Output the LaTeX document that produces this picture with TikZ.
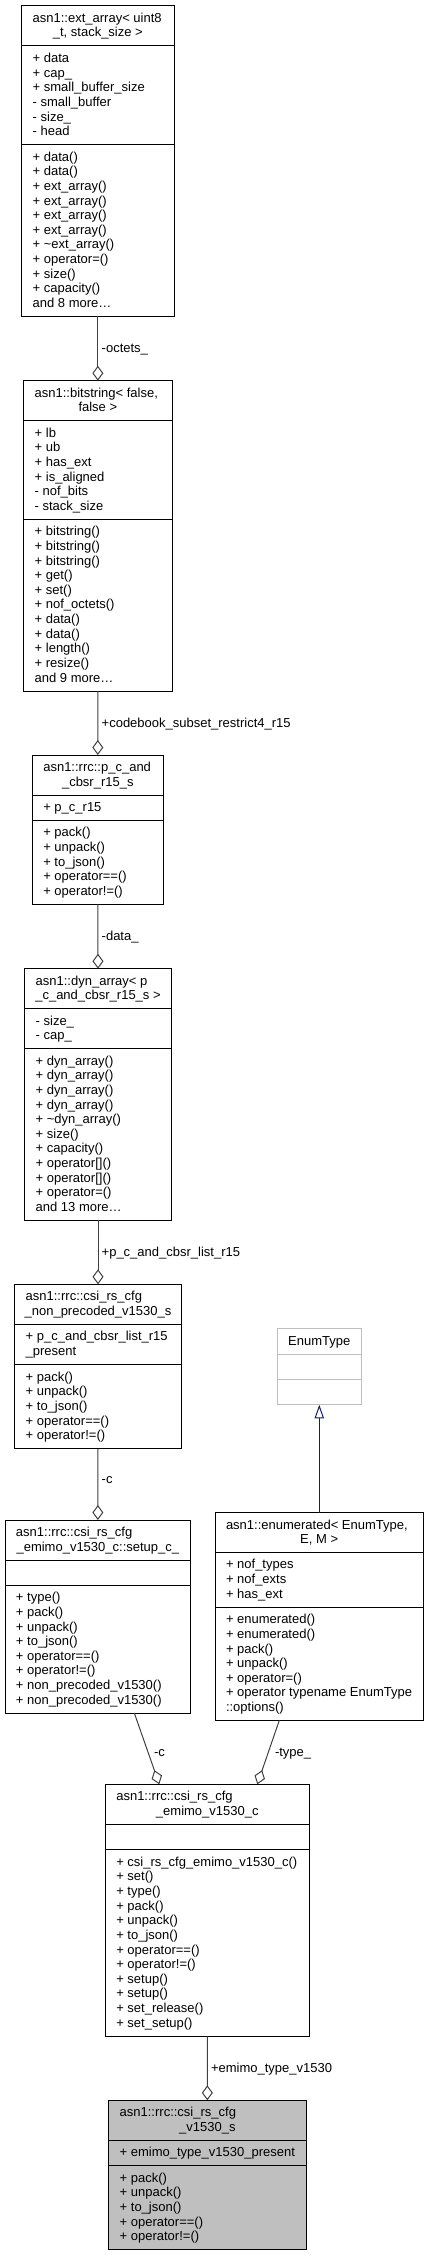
\documentclass[tikz,border=0pt]{standalone}
\usepackage{fontspec}
\setmainfont{Liberation Sans}
\usetikzlibrary{arrows.meta}
\definecolor{edgegray}{HTML}{404040}
\definecolor{boxgray}{HTML}{BFBFBF}
\definecolor{navyline}{HTML}{191970}
\tikzset{
 umlbox/.style={draw=black, line width=1pt, rectangle, inner sep=0pt, outer sep=0pt, anchor=north west, fill=white},
 sepline/.style={draw=black, line width=1pt},
 txt/.style={anchor=base west, inner sep=0pt, outer sep=0pt, font=\fontsize{13pt}{14.63pt}\selectfont},
 agg/.style={draw=edgegray, line width=1pt, {Diamond[open, fill=white, length=15pt, width=11pt]}-},
 inh/.style={draw=navyline, line width=1pt, -{Triangle[open, fill=white, length=13.6pt, width=9.3pt]}},
}
% name, L, T, W, H, s1, s2, style
\newcommand\umlbox[8]{%
 \node[umlbox,#8,minimum width=#4pt,minimum height=#5pt] (#1) at (#2,#3) {};
 \draw[sepline,#8] (#2,#6) -- ({#2+#4},#6);
 \draw[sepline,#8] (#2,#7) -- ({#2+#4},#7);
}
% name, L, W, T, line1, line2
\newcommand\umltitle[6]{%
 \node[txt] (#1-t1) at ({#2+11},{#4+16.5}) {#5};
 \node[txt,anchor=base] (#1-t2) at ({#2+#3/2},{#4+31.13}) {#6};
}
% name, L, section top, list
\newcommand\seclines[4]{%
 \foreach \mytxt [count=\i from 0] in {#4}{%
  \node[txt] (#1-\i) at ({#2+11},{#3+16.5+\i*14.63}) {\mytxt};
 }}
\begin{document}
\begin{tikzpicture}[x=1pt,y=-1pt]
\useasboundingbox (0,0) rectangle (429,2256);

% Box 1: ext_array
\umlbox{b1}{21.7}{5.7}{152.3}{310.3}{46}{144.7}{}
\umltitle{b1}{21.7}{152.3}{5.7}{asn1::ext\_array< uint8}{\_t, stack\_size >}
\seclines{b1a}{21.7}{46}{+ data,+ cap\_,+ small\_buffer\_size,- small\_buffer,- size\_,- head}
\seclines{b1m}{21.7}{144.7}{+ data(),+ data(),+ ext\_array(),+ ext\_array(),+ ext\_array(),+ ext\_array(),+ \textasciitilde ext\_array(),+ operator=(),+ size(),+ capacity(),and 8 more…}

% Box 2: bitstring
\umlbox{b2}{23.7}{380.7}{148.3}{310.3}{420.7}{519.3}{}
\umltitle{b2}{23.7}{148.3}{380.7}{asn1::bitstring< false,}{false >}
\seclines{b2a}{23.7}{420.7}{+ lb,+ ub,+ has\_ext,+ is\_aligned,- nof\_bits,- stack\_size}
\seclines{b2m}{23.7}{519.3}{+ bitstring(),+ bitstring(),+ bitstring(),+ get(),+ set(),+ nof\_octets(),+ data(),+ data(),+ length(),+ resize(),and 9 more…}

% Box 3: p_c_and_cbsr_r15_s
\umlbox{b3}{32.3}{755}{131}{149.3}{795}{820.3}{}
\umltitle{b3}{32.3}{131}{755}{asn1::rrc::p\_c\_and}{\_cbsr\_r15\_s}
\seclines{b3a}{32.3}{795}{+ p\_c\_r15}
\seclines{b3m}{32.3}{820.3}{+ pack(),+ unpack(),+ to\_json(),+ operator==(),+ operator!=()}

% Box 4: dyn_array
\umlbox{b4}{24.7}{968.7}{146.6}{251.6}{1008.7}{1048.7}{}
\umltitle{b4}{24.7}{146.6}{968.7}{asn1::dyn\_array< p}{\_c\_and\_cbsr\_r15\_s >}
\seclines{b4a}{24.7}{1008.7}{- size\_,- cap\_}
\seclines{b4m}{24.7}{1048.7}{+ dyn\_array(),+ dyn\_array(),+ dyn\_array(),+ dyn\_array(),+ \textasciitilde dyn\_array(),+ size(),+ capacity(),+ operator[](),+ operator[](),+ operator=(),and 13 more…}

% Box 5: non_precoded
\umlbox{b5}{14.7}{1284.3}{166.6}{164.4}{1324.3}{1364.7}{}
\umltitle{b5}{14.7}{166.6}{1284.3}{asn1::rrc::csi\_rs\_cfg}{\_non\_precoded\_v1530\_s}
\seclines{b5a}{14.7}{1324.3}{+ p\_c\_and\_cbsr\_list\_r15,\_present}
\seclines{b5m}{14.7}{1364.7}{+ pack(),+ unpack(),+ to\_json(),+ operator==(),+ operator!=()}

% EnumType
\umlbox{bE}{277.3}{1328.7}{84}{76}{1354}{1379.3}{draw=boxgray}
\node[txt,anchor=base] (bE-t) at (319.3,1345.2) {EnumType};

% Box 6: setup_c_
\umlbox{b6}{5}{1520}{185.7}{193}{1560}{1585.3}{}
\umltitle{b6}{5}{185.7}{1520}{asn1::rrc::csi\_rs\_cfg}{\_emimo\_v1530\_c::setup\_c\_}
\seclines{b6m}{5}{1585.3}{+ type(),+ pack(),+ unpack(),+ to\_json(),+ operator==(),+ operator!=(),+ non\_precoded\_v1530(),+ non\_precoded\_v1530()}

% Box 7: enumerated
\umlbox{b7}{215}{1512.7}{208.3}{207.6}{1552.3}{1607.3}{}
\umltitle{b7}{215}{208.3}{1512.7}{asn1::enumerated< EnumType,}{E, M >}
\seclines{b7a}{215}{1552.3}{+ nof\_types,+ nof\_exts,+ has\_ext}
\seclines{b7m}{215}{1607.3}{+ enumerated(),+ enumerated(),+ pack(),+ unpack(),+ operator=(),+ operator typename EnumType,::options()}

% Box 8: emimo_v1530_c
\umlbox{b8}{105.3}{1784.3}{204}{252}{1824.3}{1849.7}{}
\umltitle{b8}{105.3}{204}{1784.3}{asn1::rrc::csi\_rs\_cfg}{\_emimo\_v1530\_c}
\seclines{b8m}{105.3}{1849.7}{+ csi\_rs\_cfg\_emimo\_v1530\_c(),+ set(),+ type(),+ pack(),+ unpack(),+ to\_json(),+ operator==(),+ operator!=(),+ setup(),+ setup(),+ set\_release(),+ set\_setup()}

% Box 9: v1530_s
\umlbox{b9}{108.7}{2100.3}{197.3}{149.4}{2140.3}{2165.7}{fill=boxgray}
\umltitle{b9}{108.7}{197.3}{2100.3}{asn1::rrc::csi\_rs\_cfg}{\_v1530\_s}
\seclines{b9a}{108.7}{2140.3}{+ emimo\_type\_v1530\_present}
\seclines{b9m}{108.7}{2165.7}{+ pack(),+ unpack(),+ to\_json(),+ operator==(),+ operator!=()}

% Connectors
\draw[agg] (b2.north) -- (b1.south);
\node[txt] (l1) at (101.7,352) {-octets\_};
\draw[agg] (b3.north) -- (b2.south);
\node[txt] (l2) at (101.7,727) {+codebook\_subset\_restrict4\_r15};
\draw[agg] (b4.north) -- (b3.south);
\node[txt] (l3) at (101.7,940) {-data\_};
\draw[agg] (b5.north) -- (b4.south);
\node[txt] (l4) at (101.7,1256) {+p\_c\_and\_cbsr\_list\_r15};
\draw[agg] (b6.north) -- (b5.south);
\node[txt] (l5) at (101.7,1483) {-c};
\draw[inh] (bE.south |- b7.north) -- (bE.south);
\draw[agg] ([xshift=54pt]b8.north west) -- ([xshift=129.3pt]b6.south west);
\node[txt] (l6) at (154,1756) {-c};
\draw[agg] ([xshift=152pt]b8.north west) -- ([xshift=64.3pt]b7.south west);
\node[txt] (l7) at (275,1756.5) {-type\_};
\draw[agg] (b9.north) -- (b8.south);
\node[txt] (l8) at (211,2072) {+emimo\_type\_v1530};
\end{tikzpicture}
\end{document}
